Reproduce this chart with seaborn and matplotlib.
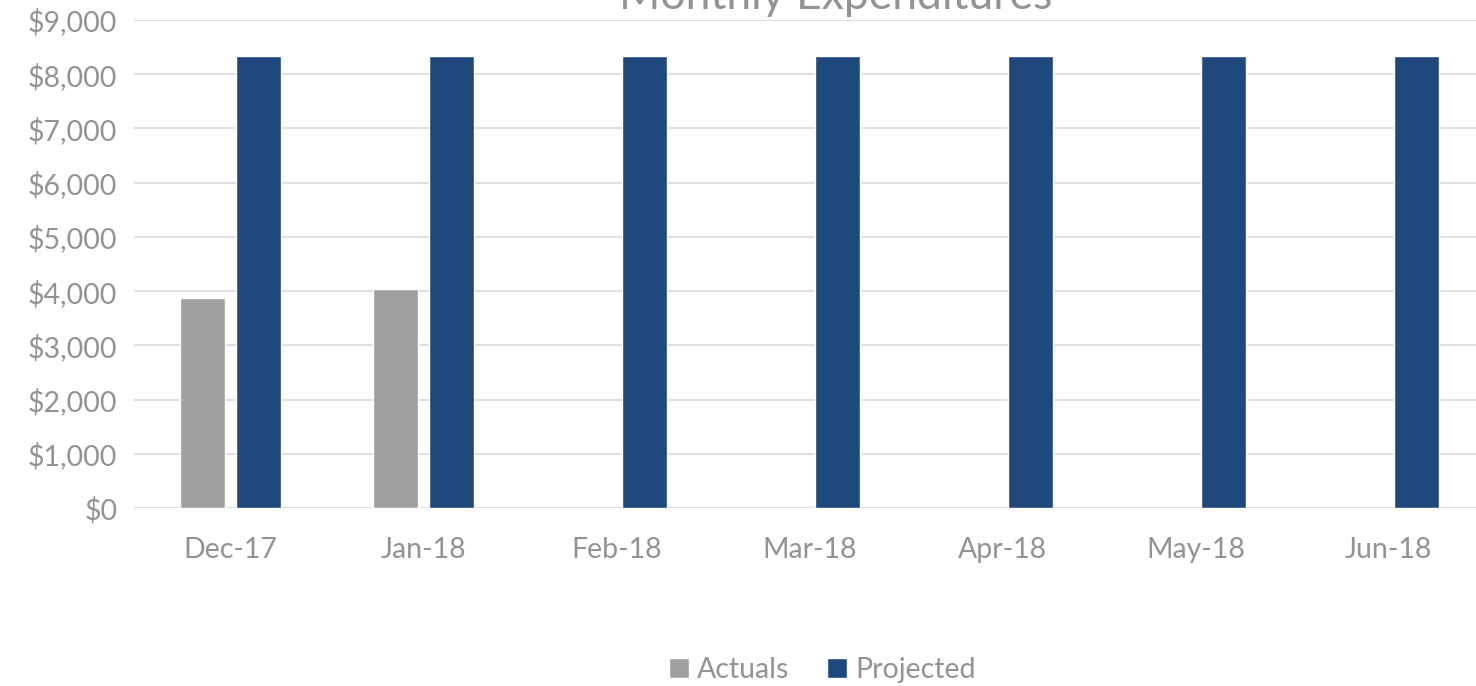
import numpy as np
import pandas as pd
import matplotlib
matplotlib.use("Agg")
import matplotlib.pyplot as plt
import seaborn as sns

months = ["Dec-17", "Jan-18", "Feb-18", "Mar-18", "Apr-18", "May-18", "Jun-18"]
actuals = [3870, 4030, np.nan, np.nan, np.nan, np.nan, np.nan]
projected = [8333, 8333, 8333, 8333, 8333, 8333, 8333]
series_names = ["Actuals", "Projected"]
colors = ["#A0A0A0", "#1F497D"]
y_ticks = [0, 1000, 2000, 3000, 4000, 5000, 6000, 7000, 8000, 9000]

df = pd.DataFrame({
    "Month": months * 2,
    "Series": [series_names[0]] * len(months) + [series_names[1]] * len(months),
    "Value": actuals + projected,
})

sns.set_theme(style="white")
plt.rcParams["font.family"] = ["Lato", "DejaVu Sans"]
text_color = "#939393"

fig = plt.figure(figsize=(14.76, 6.86), dpi=100)
ax = fig.add_axes([134 / 1476, 1 - 508 / 686, 1351 / 1476, (508 - 20) / 686])

sns.barplot(data=df, x="Month", y="Value", hue="Series", order=months,
            hue_order=series_names, palette=colors, width=0.58, gap=0.2,
            errorbar=None, ax=ax, saturation=1, legend=True)

ax.set_ylim(0, 9000)
ax.set_xlim(-0.5, len(months) - 0.5)
ax.set_yticks(y_ticks)
ax.set_yticklabels([f"${v:,.0f}" for v in y_ticks])
ax.yaxis.grid(True, color="#E0E0E0", linewidth=1.5)
ax.set_axisbelow(True)
for s in ax.spines.values():
    s.set_visible(False)
ax.tick_params(axis="both", length=0, labelsize=20.5, colors=text_color)
ax.tick_params(axis="x", pad=21)
ax.tick_params(axis="y", pad=12)
ax.set_xlabel("")
ax.set_ylabel("")

handles, labels = ax.get_legend_handles_labels()
ax.get_legend().remove()
fig.legend(handles, labels, loc="center", bbox_to_anchor=(0.557, 0.024), ncol=2,
           frameon=False, fontsize=20.5, labelcolor=text_color, handlelength=0.7,
           handleheight=0.7, handletextpad=0.3, columnspacing=1.3)

fig.text(0.566, 1 - 9 / 686, "Monthly Expenditures", ha="center", va="baseline",
         fontsize=32, color=text_color)

fig.savefig("out.png", dpi=100)
